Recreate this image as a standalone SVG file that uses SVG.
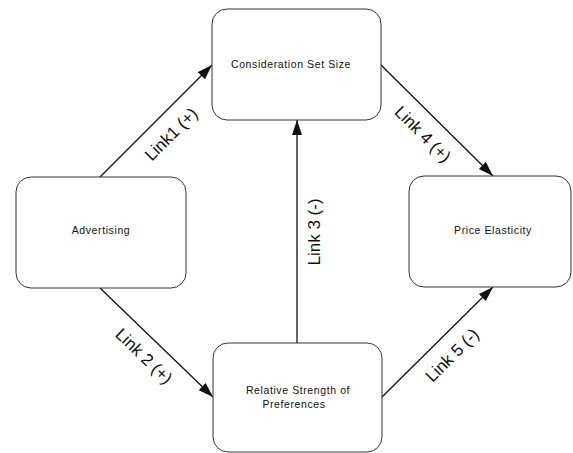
<svg xmlns="http://www.w3.org/2000/svg" width="573" height="453" viewBox="0 0 573 453">
<defs>
<marker id="ah" markerUnits="userSpaceOnUse" markerWidth="16" markerHeight="11" refX="15" refY="5" orient="auto">
<path d="M0,0 L15,5 L0,10 z" fill="#111"/>
</marker>
<style>
.box{fill:#fff;stroke:#333;stroke-width:1}
.nl{font-family:"Liberation Sans",Arial,sans-serif;font-size:10.5px;letter-spacing:0.6px;fill:#111;text-anchor:middle}
.ll{font-family:"Liberation Sans",Arial,sans-serif;font-size:17px;fill:#111;text-anchor:middle}
.cn{stroke:#111;stroke-width:1.3;fill:none;marker-end:url(#ah)}
</style>
</defs>
<rect width="573" height="453" fill="#fff"/>
<g id="connectors">
<line class="cn" x1="100" y1="177" x2="212" y2="65"/>
<line class="cn" x1="381" y1="65" x2="493" y2="176"/>
<line class="cn" x1="297" y1="343" x2="297" y2="120"/>
<line class="cn" x1="100" y1="288" x2="213" y2="397"/>
<line class="cn" x1="382" y1="397" x2="493" y2="287"/>
<text class="ll" transform="translate(171,134) rotate(-45)" y="6">Link1 (+)</text>
<text class="ll" transform="translate(423,134) rotate(45)" y="6">Link 4 (+)</text>
<text class="ll" transform="translate(314,232) rotate(-90)" y="6">Link 3 (-)</text>
<text class="ll" transform="translate(144,356) rotate(44)" y="6">Link 2 (+)</text>
<text class="ll" transform="translate(452,355) rotate(-45)" y="6">Link 5 (-)</text>
</g>
<g id="consideration">
<rect class="box" x="212" y="9" width="169" height="111" rx="15"/>
<text class="nl" x="291" y="68">Consideration Set Size</text>
</g>
<g id="advertising">
<rect class="box" x="16" y="177" width="170" height="111" rx="15"/>
<text class="nl" x="101" y="234">Advertising</text>
</g>
<g id="price">
<rect class="box" x="409" y="176" width="162" height="111" rx="15"/>
<text class="nl" x="493" y="234">Price Elasticity</text>
</g>
<g id="relative">
<rect class="box" x="213" y="343" width="169" height="109" rx="15"/>
<text class="nl" x="298" y="394">Relative Strength of</text>
<text class="nl" x="294" y="408">Preferences</text>
</g>
</svg>
